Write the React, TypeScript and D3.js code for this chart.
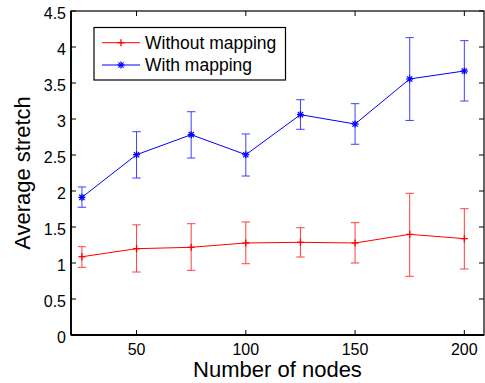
import React from "react";
import * as d3 from "d3";

const nodes = [25, 50, 75, 100, 125, 150, 175, 200];
const withoutMean = [1.087, 1.199, 1.218, 1.278, 1.287, 1.278, 1.398, 1.338];
const withoutLow = [0.94, 0.875, 0.898, 0.99, 1.083, 1.0, 0.815, 0.917];
const withoutHigh = [1.226, 1.53, 1.546, 1.57, 1.49, 1.56, 1.968, 1.754];
const withMean = [1.912, 2.504, 2.782, 2.504, 3.06, 2.93, 3.556, 3.667];
const withLow = [1.774, 2.18, 2.458, 2.208, 2.857, 2.649, 2.98, 3.25];
const withHigh = [2.056, 2.824, 3.101, 2.792, 3.268, 3.213, 4.13, 4.088];
const xTicks = [50, 100, 150, 200];
const yTicks = [0, 0.5, 1, 1.5, 2, 2.5, 3, 3.5, 4, 4.5];
const seriesNames = ["Without mapping", "With mapping"];
const xLabel = "Number of nodes";
const yLabel = "Average stretch";

const W = 485;
const H = 383;
const L = 71, R = 484, T = 11, B = 335;
const FONT = "'Liberation Sans', Arial, Helvetica, sans-serif";

const x = d3.scaleLinear().domain([20, 209]).range([L, R]);
const y = d3.scaleLinear().domain([0, 4.5]).range([B, T]);

function Plus({ cx, cy, color }: { cx: number; cy: number; color: string }) {
  const s = 3.5;
  return (
    <g stroke={color} strokeWidth={1.3}>
      <line x1={cx - s} x2={cx + s} y1={cy} y2={cy} />
      <line x1={cx} x2={cx} y1={cy - s} y2={cy + s} />
    </g>
  );
}

function Star({ cx, cy, color }: { cx: number; cy: number; color: string }) {
  const s = 3.5;
  const d = s * 0.75;
  return (
    <g stroke={color} strokeWidth={1.3}>
      <line x1={cx - s} x2={cx + s} y1={cy} y2={cy} />
      <line x1={cx} x2={cx} y1={cy - s} y2={cy + s} />
      <line x1={cx - d} x2={cx + d} y1={cy - d} y2={cy + d} />
      <line x1={cx - d} x2={cx + d} y1={cy + d} y2={cy - d} />
    </g>
  );
}

function Series({ mean, low, high, color, marker }: any) {
  const line = d3
    .line<number>()
    .x((_, i) => x(nodes[i]))
    .y((v) => y(v));
  const cap = 4.2;
  return (
    <g>
      {nodes.map((n, i) => (
        <g key={n} stroke={color} strokeWidth={1} opacity={0.75}>
          <line x1={x(n)} x2={x(n)} y1={y(low[i])} y2={y(high[i])} />
          <line x1={x(n) - cap} x2={x(n) + cap} y1={y(low[i])} y2={y(low[i])} />
          <line x1={x(n) - cap} x2={x(n) + cap} y1={y(high[i])} y2={y(high[i])} />
        </g>
      ))}
      <path d={line(mean) || ""} fill="none" stroke={color} strokeWidth={1} />
      {nodes.map((n, i) =>
        marker === "plus" ? (
          <Plus key={n} cx={x(n)} cy={y(mean[i])} color={color} />
        ) : (
          <Star key={n} cx={x(n)} cy={y(mean[i])} color={color} />
        )
      )}
    </g>
  );
}

export default function App() {
  const tl = 5;
  return (
    <svg
      width={W}
      height={H}
      style={{ position: "absolute", left: 0, top: 0, background: "#fff" }}
      fontFamily={FONT}
    >
      <rect x={0} y={0} width={W} height={H} fill="#fff" />
      <Series mean={withoutMean} low={withoutLow} high={withoutHigh} color="#ff0000" marker="plus" />
      <Series mean={withMean} low={withLow} high={withHigh} color="#0000ff" marker="star" />

      {/* frame */}
      <rect x={L} y={T} width={R - L} height={B - T} fill="none" stroke="#000" strokeWidth={1.2} />
      <line x1={L} x2={R} y1={B} y2={B} stroke="#000" strokeWidth={1.8} />
      <line x1={L} x2={L} y1={T} y2={B} stroke="#000" strokeWidth={1.8} />

      {/* x ticks */}
      {xTicks.map((t) => (
        <g key={t}>
          <line x1={x(t)} x2={x(t)} y1={B} y2={B - tl} stroke="#000" strokeWidth={1} />
          <line x1={x(t)} x2={x(t)} y1={T} y2={T + tl} stroke="#000" strokeWidth={1} />
          <text x={x(t)} y={355} textAnchor="middle" fontSize={16} fill="#000">
            {t}
          </text>
        </g>
      ))}
      {/* y ticks */}
      {yTicks.map((t) => (
        <g key={t}>
          <line x1={L} x2={L + tl} y1={y(t)} y2={y(t)} stroke="#000" strokeWidth={1} />
          <line x1={R} x2={R - tl} y1={y(t)} y2={y(t)} stroke="#000" strokeWidth={1} />
          <text x={66} y={y(t) + 7.5} textAnchor="end" fontSize={16} fill="#000">
            {t}
          </text>
        </g>
      ))}

      <text x={(L + R) / 2} y={377} textAnchor="middle" fontSize={22} fill="#000">
        {xLabel}
      </text>
      <text
        transform={`translate(30,${(T + B) / 2}) rotate(-90)`}
        textAnchor="middle"
        fontSize={22}
        fill="#000"
      >
        {yLabel}
      </text>

      {/* legend */}
      <rect x={94} y={27.5} width={191.5} height={52.5} fill="#fff" stroke="#000" strokeWidth={1.2} />
      <line x1={102} x2={140} y1={42.7} y2={42.7} stroke="#ff0000" strokeWidth={1} />
      <Plus cx={121} cy={42.7} color="#ff0000" />
      <line x1={102} x2={140} y1={65} y2={65} stroke="#0000ff" strokeWidth={1} />
      <Star cx={121} cy={65} color="#0000ff" />
      <text x={145} y={48.5} fontSize={17.5} fill="#000">
        {seriesNames[0]}
      </text>
      <text x={145} y={71} fontSize={17.5} fill="#000">
        {seriesNames[1]}
      </text>
    </svg>
  );
}
